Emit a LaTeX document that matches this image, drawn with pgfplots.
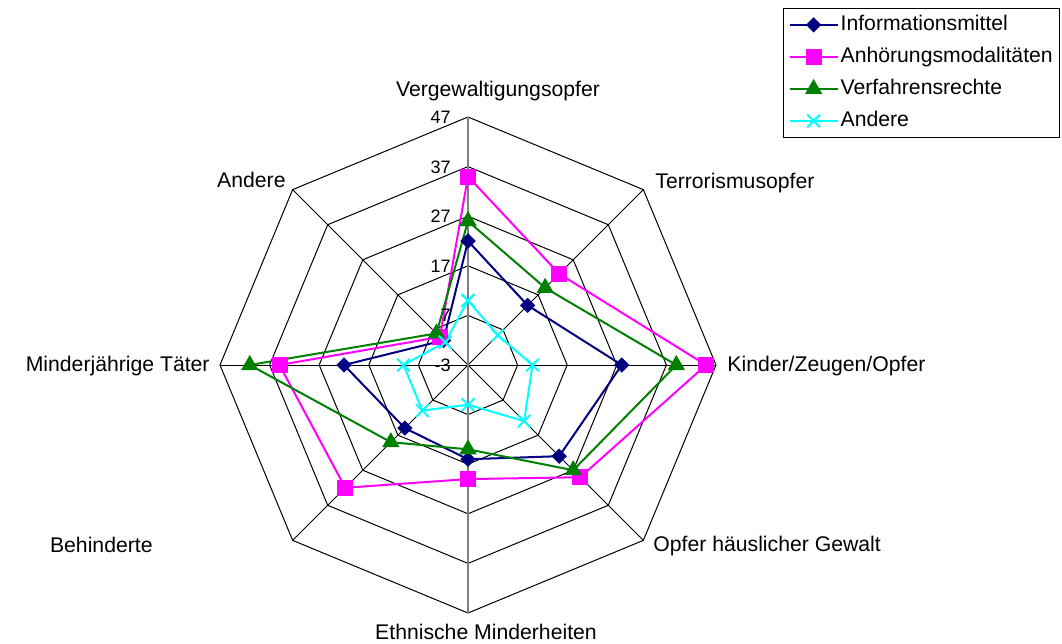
\documentclass[border=0pt]{standalone}
\usepackage{fontspec}
\setmainfont{Liberation Sans}
\usepackage{pgfplots}
\pgfplotsset{compat=1.18}
\usepgfplotslibrary{polar}
\definecolor{cnavy}{HTML}{000080}
\definecolor{cmag}{HTML}{FF00FF}
\definecolor{cgreen}{HTML}{008000}
\definecolor{ccyan}{HTML}{00FFFF}
\definecolor{cgray}{HTML}{808080}
\begin{document}
\begin{tikzpicture}
\fontsize{10.6bp}{12.7bp}\selectfont
\useasboundingbox (0,0) rectangle (531bp,322bp);
\begin{polaraxis}[
  at={(234bp,139.5bp)}, anchor=center,
  width=248bp, height=248bp, scale only axis,
  hide axis,
  ymin=-3, ymax=47,
  y coord trafo/.code={\pgfmathparse{#1+3}},
  y coord inv trafo/.code={\pgfmathparse{#1-3}},
  clip=false,
  legend cell align=left,
  legend style={at={(axis description cs:1.6935,1.2198)}, anchor=north east,
    draw=black, line width=0.5bp, inner sep=2.35bp, row sep=4.2bp,
    font=\fontsize{10.6bp}{12.7bp}\selectfont,
    nodes={inner sep=1bp, text height=7.6bp, text depth=2.2bp}},
  legend image code/.code={\draw[mark repeat=2,mark phase=2,#1] plot coordinates {(0bp,0bp)(12bp,0bp)(24bp,0bp)};},
]
% grid rings
\addplot[forget plot, black, line width=0.5bp, no markers] coordinates {(90,7)(45,7)(0,7)(-45,7)(-90,7)(-135,7)(-180,7)(-225,7)(-270,7)};
\addplot[forget plot, black, line width=0.5bp, no markers] coordinates {(90,17)(45,17)(0,17)(-45,17)(-90,17)(-135,17)(-180,17)(-225,17)(-270,17)};
\addplot[forget plot, black, line width=0.5bp, no markers] coordinates {(90,27)(45,27)(0,27)(-45,27)(-90,27)(-135,27)(-180,27)(-225,27)(-270,27)};
\addplot[forget plot, black, line width=0.5bp, no markers] coordinates {(90,37)(45,37)(0,37)(-45,37)(-90,37)(-135,37)(-180,37)(-225,37)(-270,37)};
\addplot[forget plot, black, line width=0.5bp, no markers] coordinates {(90,47)(45,47)(0,47)(-45,47)(-90,47)(-135,47)(-180,47)(-225,47)(-270,47)};
% spokes
\addplot[forget plot, black, line width=0.5bp, no markers] coordinates {(0,47)(180,47)};
\addplot[forget plot, black, line width=0.5bp, no markers] coordinates {(45,47)(225,47)};
\addplot[forget plot, black, line width=0.5bp, no markers] coordinates {(135,47)(315,47)};
\addplot[forget plot, cgray, line width=1bp, no markers] coordinates {(90,47)(270,47)};
% data
\addplot[cnavy, line width=1bp, mark=square*, mark size=2.2bp, mark options={solid, rotate=45, fill=cnavy}] coordinates {(90,22)(45,14)(0,28)(-45,23)(-90,16)(-135,15)(-180,22)(-225,4)(-270,22)};
\addlegendentry{Informationsmittel}
\addplot[cmag, line width=1bp, mark=square*, mark size=3.5bp, mark options={solid, fill=cmag}] coordinates {(90,35)(45,23)(0,45)(-45,29)(-90,20)(-135,32)(-180,35)(-225,5)(-270,35)};
\addlegendentry{Anhörungsmodalitäten}
\addplot[cgreen, line width=1bp, mark=triangle*, mark size=4bp, mark options={solid, fill=cgreen}] coordinates {(90,26)(45,19)(0,39)(-45,27)(-90,14)(-135,19)(-180,41)(-225,6)(-270,26)};
\addlegendentry{Verfahrensrechte}
\addplot[ccyan, line width=1bp, mark=x, mark size=4.5bp, mark options={solid}] coordinates {(90,10)(45,5.5)(0,10)(-45,13)(-90,5)(-135,10)(-180,10)(-225,3.5)(-270,10)};
\addlegendentry{Andere}
\end{polaraxis}
% category labels
\node[anchor=base, inner sep=0] at (249bp,273.5bp) {Vergewaltigungsopfer};
\node[anchor=base west, inner sep=0] at (327.5bp,227.5bp) {Terrorismusopfer};
\node[anchor=base west, inner sep=0] at (363.5bp,136bp) {Kinder/Zeugen/Opfer};
\node[anchor=base west, inner sep=0] at (326.5bp,46bp) {Opfer häuslicher Gewalt};
\node[anchor=base, inner sep=0] at (243bp,2.5bp) {Ethnische Minderheiten};
\node[anchor=base east, inner sep=0] at (76.5bp,45.5bp) {Behinderte};
\node[anchor=base east, inner sep=0] at (105bp,136bp) {Minderjährige Täter};
\node[anchor=base east, inner sep=0] at (143bp,228bp) {Andere};
% radial tick labels
\begin{scope}[every node/.style={anchor=east, inner sep=0, font=\fontsize{9bp}{10bp}\selectfont}]
\node at (225.5bp,263.5bp) {47};
\node at (225.5bp,238.5bp) {37};
\node at (225.5bp,213.7bp) {27};
\node at (225.5bp,189bp) {17};
\node at (225.5bp,164.3bp) {7};
\node at (225.5bp,139.5bp) {-3};
\end{scope}
\end{tikzpicture}
\end{document}
